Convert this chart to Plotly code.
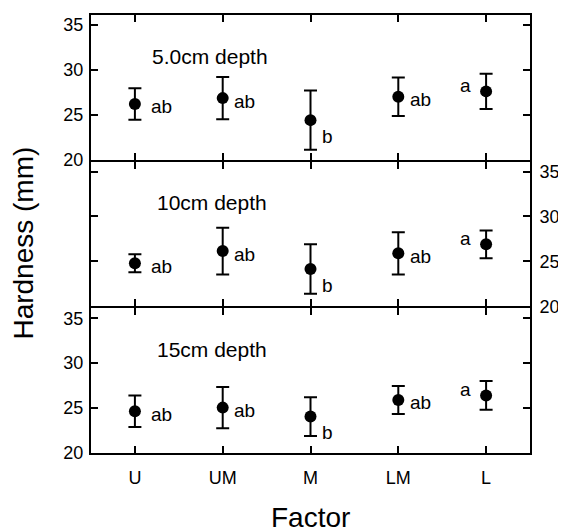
import plotly.graph_objects as go
from plotly.subplots import make_subplots

factors = ["U", "UM", "M", "LM", "L"]
depths = ["5.0cm depth", "10cm depth", "15cm depth"]
mean_5 = [26.2, 26.85, 24.4, 27.0, 27.6]
err_5 = [1.75, 2.35, 3.3, 2.15, 1.95]
mean_10 = [24.8, 26.15, 24.15, 25.9, 26.9]
err_10 = [1.0, 2.6, 2.75, 2.35, 1.55]
mean_15 = [24.65, 25.05, 24.05, 25.9, 26.4]
err_15 = [1.75, 2.3, 2.15, 1.55, 1.6]
letters = ["ab", "ab", "b", "ab", "a"]
yticks = [20, 25, 30, 35]

means = [mean_5, mean_10, mean_15]
errs = [err_5, err_10, err_15]

FONT = "Liberation Sans, Arial, sans-serif"

W, H = 558, 524
ML, MR, MT, MB = 83, 36, 7, 79
PH = H - MT - MB
GAP = 2.0
panel = (PH - 2 * GAP) / 3
domains = [
    [(2 * panel + 2 * GAP) / PH, 1.0],
    [(panel + GAP) / PH, (2 * panel + GAP) / PH],
    [0.0, panel / PH],
]

fig = make_subplots(rows=3, cols=1, shared_xaxes=True, vertical_spacing=0.01)

lab_style = {
    "ab": ("left", -3),
    "b": ("left", -16),
    "a": ("right", 6),
}
lab_xshift = [14, 9, 9, 10, -13]
depth_x = [0.134, 0.146, 0.146]

for r in range(3):
    fig.add_trace(
        go.Scatter(
            x=factors, y=means[r], mode="markers",
            marker=dict(color="black", size=12),
            error_y=dict(type="data", array=errs[r], color="black",
                         thickness=2, width=6.5),
            showlegend=False,
        ),
        row=r + 1, col=1,
    )
    xref = "x" if r == 0 else f"x{r+1}"
    yref = "y" if r == 0 else f"y{r+1}"
    for i, (f, m, lab) in enumerate(zip(factors, means[r], letters)):
        xa, ys = lab_style[lab]
        fig.add_annotation(
            x=f, y=m, xref=xref, yref=yref, text=lab, showarrow=False,
            xanchor=xa, yanchor="middle", xshift=lab_xshift[i],
            yshift=ys, font=dict(size=19, color="black", family=FONT),
        )
    fig.add_annotation(
        x=depth_x[r], y=0.715, xref=f"{xref} domain", yref=f"{yref} domain",
        text=depths[r], showarrow=False, xanchor="left", yanchor="middle",
        font=dict(size=21, color="black", family=FONT),
    )

for r in range(1, 4):
    fig.update_xaxes(
        type="category", range=[-0.5, 4.5], showline=True, linecolor="black",
        linewidth=2, mirror="ticks", ticks="inside", ticklen=7, tickwidth=2,
        tickcolor="black", showgrid=False, zeroline=False, automargin=False,
        ticklabelstandoff=7,
        tickfont=dict(size=18, color="black", family=FONT),
        row=r, col=1,
    )
    fig.update_yaxes(
        range=[20, 36.1], tickvals=yticks, showline=True, linecolor="black",
        linewidth=2, mirror="ticks", ticks="inside", ticklen=7, tickwidth=2,
        tickcolor="black", showgrid=False, zeroline=False, automargin=False,
        side="right" if r == 2 else "left",
        ticklabelstandoff=4 if r == 2 else 2,
        domain=domains[r - 1],
        tickfont=dict(size=18, color="black", family=FONT),
        row=r, col=1,
    )

fig.add_annotation(
    x=-0.153, y=0.48, xref="paper", yref="paper", text="Hardness (mm)",
    textangle=-90, showarrow=False, xanchor="center", yanchor="middle",
    font=dict(size=28, color="black", family=FONT),
)
fig.add_annotation(
    x=0.5, y=-0.151, xref="paper", yref="paper", text="Factor",
    showarrow=False, xanchor="center", yanchor="middle", yshift=2,
    font=dict(size=28, color="black", family=FONT),
)

fig.update_layout(
    width=W, height=H,
    margin=dict(l=ML, r=MR, t=MT, b=MB),
    paper_bgcolor="white", plot_bgcolor="white",
    showlegend=False,
)

fig.write_html("out.html")
